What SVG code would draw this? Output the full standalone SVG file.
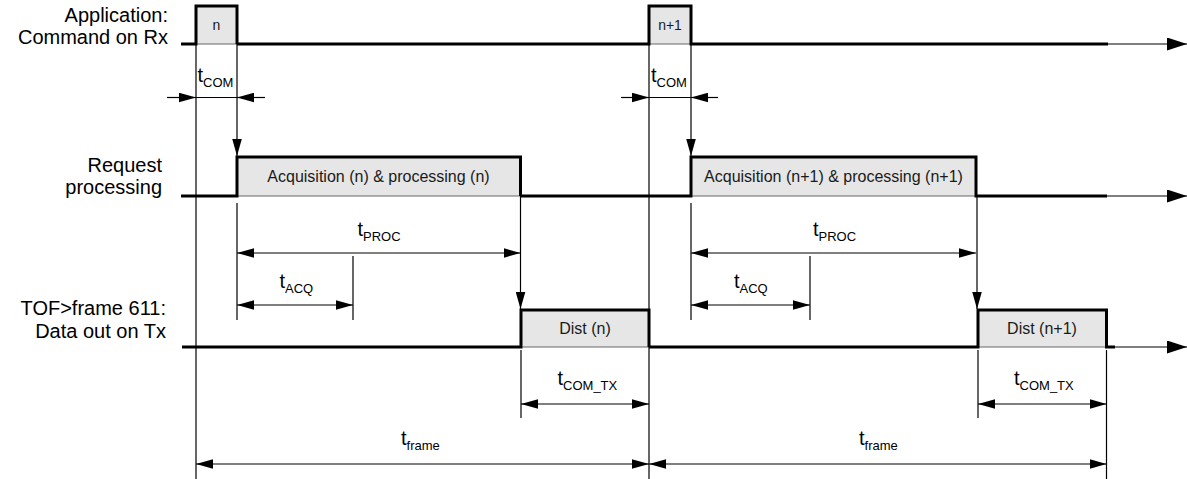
<svg xmlns="http://www.w3.org/2000/svg" width="1187" height="479" viewBox="0 0 1187 479">
<style>
.lbl{font-family:"Liberation Sans",Arial,sans-serif;font-size:20px;fill:#000;text-anchor:end}
.in{font-family:"Liberation Sans",Arial,sans-serif;font-size:16px;fill:#1a1a1a;text-anchor:middle}
.inS{font-family:"Liberation Sans",Arial,sans-serif;font-size:14px;fill:#1a1a1a;text-anchor:middle}
.t{font-family:"Liberation Sans",Arial,sans-serif;font-size:20px;fill:#000}
.sub{font-size:13px}
.sig{fill:none;stroke:#000;stroke-width:3;stroke-linejoin:miter}
.ext{fill:none;stroke:#555;stroke-width:1.5}
.pf{fill:#e6e6e6;stroke:none}
.pb{stroke:#666;stroke-width:1.2}
.th{fill:none;stroke:#000;stroke-width:1.2}
.dim{fill:none;stroke:#000;stroke-width:1.2;marker-start:url(#ah);marker-end:url(#ah)}
.one{fill:none;stroke:#000;stroke-width:1.2;marker-end:url(#ah)}
.ax{marker-end:url(#big)}
</style>
<defs>
<marker id="ah" markerUnits="userSpaceOnUse" markerWidth="17" markerHeight="10" refX="16" refY="4.5" orient="auto-start-reverse" viewBox="0 0 16 9">
<path d="M0,0 L16,4.5 L0,9 z" fill="#000"/>
</marker>
<marker id="big" markerUnits="userSpaceOnUse" markerWidth="21" markerHeight="13" refX="20" refY="6.5" orient="auto" viewBox="0 0 20 13">
<path d="M0,0 L20,6.5 L0,13 z" fill="#000"/>
</marker>
</defs>

<g id="label-rx">
<text class="lbl" x="168" y="22">Application:</text>
<text class="lbl" x="168" y="44">Command on Rx</text>
</g>
<g id="label-req">
<text class="lbl" x="162" y="172">Request</text>
<text class="lbl" x="162" y="194">processing</text>
</g>
<g id="label-tx">
<text class="lbl" x="166" y="315">TOF&gt;frame 611:</text>
<text class="lbl" x="166" y="338">Data out on Tx</text>
</g>

<g id="pulse-n">
<rect class="pf" x="196" y="6" width="41" height="38"/>
<line class="pb" x1="196" y1="44" x2="237" y2="44"/>
<text class="inS" x="216.5" y="30">n</text>
</g>
<g id="pulse-n1">
<rect class="pf" x="649" y="6" width="42" height="38"/>
<line class="pb" x1="649" y1="44" x2="691" y2="44"/>
<text class="inS" x="670" y="30">n+1</text>
</g>
<g id="acq-n">
<rect class="pf" x="237" y="157" width="283.5" height="39"/>
<line class="pb" x1="237" y1="196" x2="520.5" y2="196"/>
<text class="in" x="378.5" y="182">Acquisition (n) &amp; processing (n)</text>
</g>
<g id="acq-n1">
<rect class="pf" x="691" y="157" width="285" height="39"/>
<line class="pb" x1="691" y1="196" x2="976" y2="196"/>
<text class="in" x="833.5" y="182">Acquisition (n+1) &amp; processing (n+1)</text>
</g>
<g id="dist-n">
<rect class="pf" x="521" y="310" width="128" height="37"/>
<line class="pb" x1="521" y1="347" x2="649" y2="347"/>
<text class="in" x="585" y="334">Dist (n)</text>
</g>
<g id="dist-n1">
<rect class="pf" x="978" y="310" width="128.5" height="37"/>
<line class="pb" x1="978" y1="347" x2="1106.5" y2="347"/>
<text class="in" x="1042" y="334">Dist (n+1)</text>
</g>

<g id="signals">
<polyline class="sig" points="181,44 196,44 196,6 237,6 237,44"/>
<polyline class="sig" points="237,44 649,44 649,6 691,6 691,44 1108,44"/>
<line class="ext ax" x1="1108" y1="44" x2="1187" y2="44"/>
<polyline class="sig" points="181,196 237,196 237,157 520.5,157 520.5,196"/>
<polyline class="sig" points="520.5,196 691,196 691,157 976,157 976,196 1107,196"/>
<line class="ext ax" x1="1107" y1="196" x2="1187" y2="196"/>
<polyline class="sig" points="182,347 521,347 521,310 649,310 649,347"/>
<polyline class="sig" points="649,347 978,347 978,310 1106.5,310 1106.5,347 1115,347"/>
<line class="ext ax" x1="1115" y1="347" x2="1187" y2="347"/>
</g>

<g id="connectors">
<line class="th" x1="196" y1="44" x2="196" y2="479"/>
<line class="one" x1="237" y1="44" x2="237" y2="156"/>
<line class="th" x1="237" y1="203" x2="237" y2="320"/>
<line class="th" x1="353" y1="256" x2="353" y2="320"/>
<line class="one" x1="520.5" y1="196" x2="520.5" y2="309"/>
<line class="th" x1="521" y1="350" x2="521" y2="418"/>
<line class="th" x1="649" y1="44" x2="649" y2="479"/>
<line class="one" x1="691" y1="44" x2="691" y2="156"/>
<line class="th" x1="691" y1="203" x2="691" y2="320"/>
<line class="th" x1="810" y1="256" x2="810" y2="320"/>
<line class="one" x1="977" y1="196" x2="977" y2="309"/>
<line class="th" x1="978" y1="350" x2="978" y2="418"/>
<line class="th" x1="1106.5" y1="350" x2="1106.5" y2="479"/>

<line class="one" x1="167" y1="97.5" x2="196" y2="97.5"/>
<line class="th" x1="196" y1="97.5" x2="237" y2="97.5"/>
<line class="one" x1="265" y1="97.5" x2="237" y2="97.5"/>
<line class="one" x1="621" y1="97.5" x2="649" y2="97.5"/>
<line class="th" x1="649" y1="97.5" x2="691" y2="97.5"/>
<line class="one" x1="718" y1="97.5" x2="691" y2="97.5"/>

<line class="dim" x1="237" y1="253" x2="520.5" y2="253"/>
<line class="dim" x1="237" y1="305" x2="353" y2="305"/>
<line class="dim" x1="691" y1="253" x2="976" y2="253"/>
<line class="dim" x1="691" y1="305" x2="810" y2="305"/>
<line class="dim" x1="521" y1="404" x2="649" y2="404"/>
<line class="dim" x1="978" y1="404" x2="1106.5" y2="404"/>
<line class="dim" x1="196" y1="464" x2="649" y2="464"/>
<line class="dim" x1="649" y1="464" x2="1106.5" y2="464"/>
</g>

<g id="time-labels">
<text class="t" x="197.5" y="82">t<tspan class="sub" dy="5">COM</tspan></text>
<text class="t" x="651" y="82">t<tspan class="sub" dy="5">COM</tspan></text>
<text class="t" x="357.5" y="235.5">t<tspan class="sub" dy="5">PROC</tspan></text>
<text class="t" x="813" y="235.5">t<tspan class="sub" dy="5">PROC</tspan></text>
<text class="t" x="279.5" y="288">t<tspan class="sub" dy="5">ACQ</tspan></text>
<text class="t" x="734" y="288">t<tspan class="sub" dy="5">ACQ</tspan></text>
<text class="t" x="557.5" y="385">t<tspan class="sub" dy="5">COM_TX</tspan></text>
<text class="t" x="1014" y="385">t<tspan class="sub" dy="5">COM_TX</tspan></text>
<text class="t" x="401" y="445">t<tspan class="sub" dy="5">frame</tspan></text>
<text class="t" x="859" y="445">t<tspan class="sub" dy="5">frame</tspan></text>
</g>
</svg>
